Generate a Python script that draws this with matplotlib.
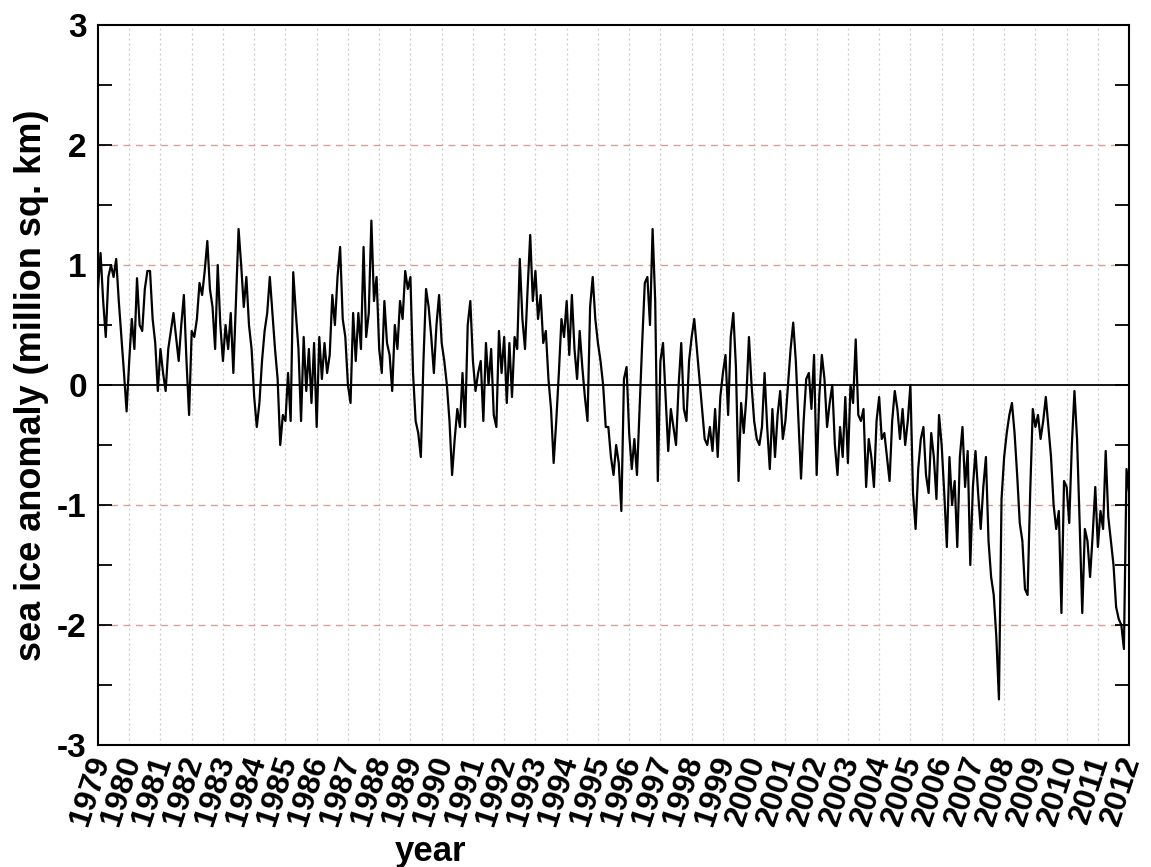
import numpy as np
import matplotlib
matplotlib.use("Agg")
import matplotlib.pyplot as plt
import matplotlib.transforms as mtrans
from matplotlib.ticker import MultipleLocator

plt.rcParams['font.family'] = ['Liberation Sans', 'DejaVu Sans']
plt.rcParams['font.weight'] = 'bold'
plt.rcParams['axes.unicode_minus'] = False

# monthly sea ice extent anomaly, million sq. km, Jan 1979 .. Dec 2011
anom_1979_1988 = [
    0.8, 1.1, 0.7, 0.4, 0.9, 1.0, 0.9, 1.05, 0.7, 0.4, 0.1, -0.22,
    0.2, 0.55, 0.3, 0.89, 0.5, 0.45, 0.8, 0.95, 0.95, 0.55, 0.35, -0.05,
    0.3, 0.1, -0.05, 0.3, 0.45, 0.6, 0.4, 0.2, 0.5, 0.75, 0.2, -0.25,
    0.45, 0.4, 0.55, 0.85, 0.75, 0.95, 1.2, 0.8, 0.65, 0.3, 1.0, 0.5,
    0.2, 0.5, 0.3, 0.6, 0.1, 0.7, 1.3, 1.0, 0.65, 0.9, 0.5, 0.3,
    -0.1, -0.35, -0.15, 0.2, 0.45, 0.6, 0.9, 0.6, 0.3, 0.05, -0.5, -0.25,
    -0.3, 0.1, -0.3, 0.94, 0.6, 0.3, -0.3, 0.4, -0.05, 0.3, -0.15, 0.35,
    -0.35, 0.4, 0.05, 0.35, 0.1, 0.25, 0.75, 0.5, 0.9, 1.15, 0.55, 0.4,
    0.0, -0.15, 0.6, 0.2, 0.6, 0.3, 1.15, 0.4, 0.6, 1.37, 0.7, 0.9,
    0.3, 0.1, 0.7, 0.35, 0.25, -0.05, 0.5, 0.3, 0.7, 0.55, 0.95, 0.8,
]
anom_1989_1998 = [
    0.9, 0.1, -0.3, -0.4, -0.6, 0.2, 0.8, 0.65, 0.4, 0.1, 0.5, 0.75,
    0.35, 0.2, 0.0, -0.3, -0.75, -0.45, -0.2, -0.35, 0.1, -0.35, 0.5, 0.7,
    0.2, -0.05, 0.1, 0.2, -0.3, 0.35, 0.0, 0.3, -0.25, -0.35, 0.45, 0.1,
    0.4, -0.15, 0.35, -0.1, 0.4, 0.3, 1.05, 0.55, 0.3, 0.8, 1.25, 0.7,
    0.95, 0.55, 0.75, 0.35, 0.45, 0.05, -0.2, -0.65, -0.3, 0.1, 0.55, 0.4,
    0.7, 0.25, 0.75, 0.3, 0.05, 0.45, 0.15, -0.1, -0.3, 0.65, 0.9, 0.55,
    0.35, 0.2, 0.0, -0.35, -0.35, -0.6, -0.75, -0.5, -0.65, -1.05, 0.05, 0.15,
    -0.4, -0.7, -0.45, -0.75, -0.2, 0.35, 0.85, 0.9, 0.5, 1.3, 0.7, -0.8,
    0.2, 0.35, -0.1, -0.55, -0.2, -0.35, -0.5, 0.0, 0.35, -0.2, -0.3, 0.2,
    0.4, 0.55, 0.3, 0.05, -0.2, -0.45, -0.5, -0.35, -0.55, -0.2, -0.6, -0.1,
]
anom_1999_2008 = [
    0.1, 0.25, -0.25, 0.4, 0.6, 0.15, -0.8, -0.15, -0.4, -0.1, 0.4, 0.0,
    -0.3, -0.45, -0.5, -0.35, 0.1, -0.35, -0.7, -0.2, -0.6, -0.25, -0.05, -0.45,
    -0.3, 0.0, 0.3, 0.52, 0.2, -0.3, -0.78, -0.3, 0.05, 0.1, -0.2, 0.25,
    -0.75, -0.1, 0.25, 0.05, -0.35, -0.15, 0.0, -0.5, -0.75, -0.35, -0.6, -0.1,
    -0.65, 0.0, -0.15, 0.38, -0.25, -0.3, -0.2, -0.85, -0.45, -0.6, -0.85, -0.3,
    -0.1, -0.45, -0.4, -0.6, -0.8, -0.3, -0.05, -0.2, -0.45, -0.2, -0.5, -0.3,
    0.0, -0.9, -1.2, -0.7, -0.45, -0.35, -0.75, -0.9, -0.4, -0.6, -0.95, -0.25,
    -0.5, -0.9, -1.35, -0.6, -1.0, -0.8, -1.35, -0.6, -0.35, -0.85, -0.55, -1.5,
    -0.85, -0.55, -0.9, -1.2, -0.85, -0.6, -1.3, -1.6, -1.75, -2.1, -2.62, -0.95,
    -0.6, -0.4, -0.25, -0.15, -0.4, -0.75, -1.15, -1.3, -1.7, -1.75, -0.9, -0.2,
]
anom_2009_2011 = [
    -0.35, -0.25, -0.45, -0.3, -0.1, -0.35, -0.6, -1.0, -1.2, -1.05, -1.9, -0.8,
    -0.85, -1.15, -0.5, -0.05, -0.45, -1.15, -1.9, -1.2, -1.3, -1.6, -1.25, -0.85,
    -1.35, -1.05, -1.2, -0.55, -1.1, -1.3, -1.5, -1.85, -1.95, -2.0, -2.2, -0.7,
    -0.9,
]

first_year = 1979
years = list(range(1979, 2013))

anom = np.array(anom_1979_1988 + anom_1989_1998 + anom_1999_2008 + anom_2009_2011)
t = first_year + np.arange(len(anom)) / 12.0

fig = plt.figure(figsize=(11.51, 8.67), dpi=100)
ax = fig.add_axes([0.0851, 0.1407, 0.8959, 0.8305])

# year grid, dotted gray
for yr in years[1:-1]:
    ax.axvline(yr, color='#c8c8c8', lw=0.9, ls=(0, (1.5, 2.5)), zorder=1)
# dashed reddish lines at +-1, +-2, solid zero line
for lev in [-2, -1, 1, 2]:
    ax.axhline(lev, color='#d8a095', lw=1.0, ls=(0, (5, 4)), zorder=1)
ax.axhline(0, color='black', lw=1.3, zorder=2)

ax.plot(t, anom, color='black', lw=1.6, zorder=3)

ax.set_xlim(1979, 2012)
ax.set_ylim(-3, 3)
ax.yaxis.set_major_locator(MultipleLocator(1))
ax.yaxis.set_minor_locator(MultipleLocator(0.5))
ax.tick_params(axis='y', which='both', direction='in', length=10, width=1.3,
               left=True, right=True, labelsize=24, pad=8)
ax.tick_params(axis='x', length=0, pad=5)
ax.set_xticks(years)
ax.set_xticklabels([str(y) for y in years], rotation=72, ha='center',
                   va='top', fontsize=23)
# nudge the slanted year labels left so 2012 stays inside the figure
# (done after tick_params, which would reset the label transforms)
shift = mtrans.ScaledTranslation(-8 / 100, 0, fig.dpi_scale_trans)
for lab in ax.get_xticklabels():
    lab.set_transform(lab.get_transform() + shift)

for sp in ax.spines.values():
    sp.set_linewidth(1.5)

ax.set_xlabel('year', fontsize=25, fontweight='bold')
ax.xaxis.set_label_coords(0.323, -0.125)
ax.set_ylabel('sea ice anomaly (million sq. km)', fontsize=26,
              fontweight='bold')
ax.yaxis.set_label_coords(-0.047, 0.5)

fig.savefig('out.png', dpi=100)
